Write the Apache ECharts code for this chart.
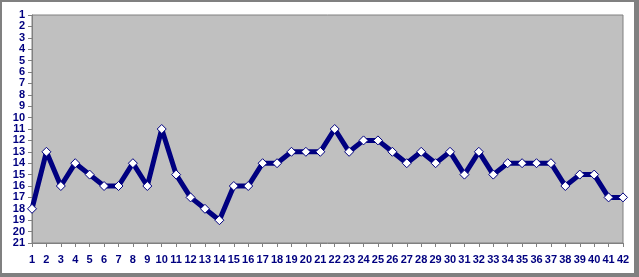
<!DOCTYPE html>
<html><head><meta charset="utf-8">
<script src="https://cdn.jsdelivr.net/npm/echarts@6/dist/echarts.min.js"></script>
<style>html,body{margin:0;padding:0;background:#fff}#c{width:639px;height:277px}</style>
</head><body><div id="c"></div>
<script>
const categories = ['1','2','3','4','5','6','7','8','9','10','11','12','13','14','15','16','17','18','19','20','21','22','23','24','25','26','27','28','29','30','31','32','33','34','35','36','37','38','39','40','41','42'];
const ranks = [18,13,16,14,15,16,16,14,16,11,15,17,18,19,16,16,14,14,13,13,13,11,13,12,12,13,14,13,14,13,15,13,15,14,14,14,14,16,15,15,17,17];
const yMin = 1, yMax = 21, yStep = 1;

const chart = echarts.init(document.getElementById('c'), null, {renderer:'canvas'});
const labelStyle = {color:'#000080', fontFamily:'Liberation Sans, Arial, sans-serif', fontWeight:'bold', fontSize:11};
chart.setOption({
  animation:false,
  graphic:[
    {type:'rect', z:-10, shape:{x:0,y:0,width:639,height:277}, style:{fill:'#808080'}},
    {type:'rect', z:-9, shape:{x:2,y:2,width:632,height:271}, style:{fill:'#ffffff'}}
  ],
  grid:{left:32, right:16, top:15, bottom:34, show:true, backgroundColor:'#C0C0C0', borderColor:'#808080', borderWidth:1},
  xAxis:{type:'category', data:categories, boundaryGap:false,
    axisLine:{lineStyle:{color:'#808080', width:1}},
    axisTick:{show:true, length:4, lineStyle:{color:'#808080'}, interval:0},
    axisLabel:Object.assign({margin:11, interval:0}, labelStyle),
    splitLine:{show:false}},
  yAxis:{type:'value', inverse:true, min:yMin, max:yMax, interval:yStep,
    axisLine:{show:true, lineStyle:{color:'#808080', width:1}},
    axisTick:{show:true, length:4, lineStyle:{color:'#808080'}},
    axisLabel:Object.assign({margin:7}, labelStyle),
    splitLine:{show:false}},
  series:[{type:'line', data:ranks, symbol:'diamond', symbolSize:9,
    lineStyle:{color:'#000080', width:5},
    itemStyle:{color:'#ffffff', borderColor:'#000080', borderWidth:1}}]
});
</script></body></html>
